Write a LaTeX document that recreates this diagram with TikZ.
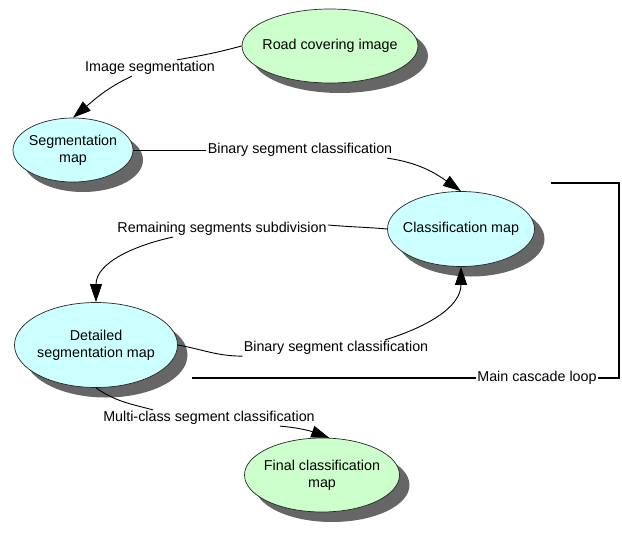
\documentclass[tikz,border=0pt]{standalone}
\usepackage{fontspec}
\setmainfont{Liberation Sans}
\usetikzlibrary{arrows.meta, shapes.geometric, shadows}
\definecolor{termgreen}{RGB}{204,255,204}
\definecolor{intercyan}{RGB}{204,255,255}

\begin{document}
\begin{tikzpicture}[x=1pt, y=1pt, >={Triangle[length=18pt,width=12pt]},
    font=\fontsize{14.3}{17}\selectfont, line width=0.9pt]
  \tikzset{
    term/.style={
      ellipse,
      draw=black!85,
      line width=0.7pt,
      fill=termgreen,
      inner sep=0pt,
      drop shadow={shadow xshift=10pt, shadow yshift=-10pt, fill=black!60, opacity=1}},
    inter/.style={
      ellipse,
      draw=black!85,
      line width=0.7pt,
      fill=intercyan,
      inner sep=0pt,
      drop shadow={shadow xshift=10pt, shadow yshift=-10pt, fill=black!60, opacity=1}},
    lbl/.style={
      inner sep=1pt,
      text centered},
    every label/.style={
      align=center,
      inner sep=0pt}}

  \useasboundingbox (0,0) rectangle (622,-536);

  \node[term, minimum width=176pt, minimum height=74pt, label={center:Road covering image}] (road) at (330,-46) {};
  \node[inter, minimum width=120pt, minimum height=64pt, label={center:Segmentation\\map}] (segmap) at (73,-150) {};
  \node[inter, minimum width=147pt, minimum height=75pt, label={center:Classification map}] (classmap) at (461,-229) {};
  \node[inter, minimum width=163pt, minimum height=85pt, label={center:Detailed\\segmentation map}] (detmap) at (96,-345) {};
  \node[term, minimum width=155pt, minimum height=74pt, label={center:Final classification\\map}] (finalmap) at (322,-475) {};

  \node[lbl] (imgseg) at (150,-68) {Image segmentation};
  \node[lbl] (binseg1) at (300,-150) {Binary segment classification};
  \node[lbl] (remseg) at (222,-229) {Remaining segments subdivision};
  \node[lbl] (binseg2) at (336,-348) {Binary segment classification};
  \node[lbl] (multi) at (209,-418) {Multi-class segment classification};
  \node[lbl] (looplbl) at (537,-378) {Main cascade loop};

  \coordinate (looptop) at (551,-183);
  \coordinate (loopne) at (619,-183);
  \coordinate (loopse) at (619,-378);
  \coordinate (loopend) at (192,-378);

  \draw (road.west) to[out=195, in=10] ([xshift=27pt]imgseg.north);
  \draw[->] ([xshift=-18pt]imgseg.south) to[out=205, in=40] (segmap.north);

  \draw (segmap.east) -- (binseg1.west);
  \draw[->] ([xshift=87pt]binseg1.south) to[out=-8, in=145] (classmap.north);

  \draw (classmap.west) to[out=175, in=-5] ([yshift=4pt]remseg.east);
  \draw[->] ([xshift=-49pt]remseg.south) to[out=192, in=90] (detmap.north);

  \draw (detmap.east) to[out=-10, in=180] (binseg2.south west);
  \draw[->] ([xshift=49pt]binseg2.north) to[out=17, in=-90] (classmap.south);

  \draw (detmap.south) to[out=-35, in=165] ([xshift=-56pt]multi.north);
  \draw[->] ([xshift=71pt]multi.south) to[out=-5, in=160] (finalmap.79);

  \draw[line width=2pt] (looptop) -- (loopne) -- (loopse) -- (looplbl.east);
  \draw[line width=2pt] (looplbl.west) -- (loopend);

\end{tikzpicture}
\end{document}
